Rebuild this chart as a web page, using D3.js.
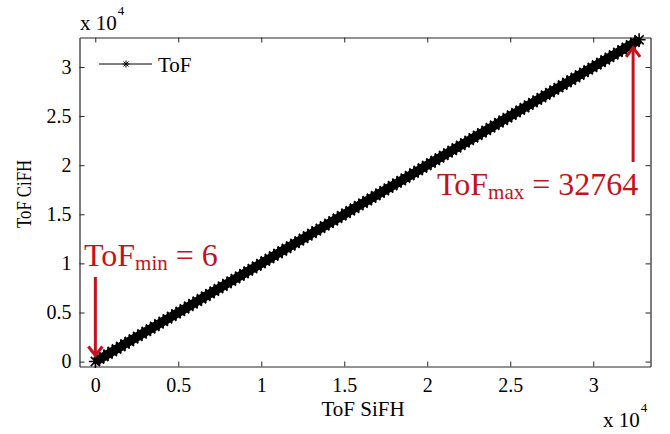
<!DOCTYPE html>
<html>
<head>
<meta charset="utf-8">
<script src="https://cdn.jsdelivr.net/npm/d3@7"></script>
<style>
  html, body { margin: 0; padding: 0; background: #fff; }
  svg { display: block; }
  text { font-family: "Liberation Serif", "Times New Roman", serif; }
</style>
</head>
<body>
<svg id="chart" width="670" height="434"></svg>
<script>
// ---- data ----
const tofSiFH = [6,256,512,768,1024,1280,1536,1792,2048,2304,2560,2816,3072,3328,3584,3840,4096,4352,4608,4864,5120,5376,5632,5888,6144,6400,6656,6912,7168,7424,7680,7936,8192,8448,8704,8960,9216,9472,9728,9984,10240,10496,10752,11008,11264,11520,11776,12032,12288,12544,12800,13056,13312,13568,13824,14080,14336,14592,14848,15104,15360,15616,15872,16128,16384,16640,16896,17152,17408,17664,17920,18176,18432,18688,18944,19200,19456,19712,19968,20224,20480,20736,20992,21248,21504,21760,22016,22272,22528,22784,23040,23296,23552,23808,24064,24320,24576,24832,25088,25344,25600,25856,26112,26368,26624,26880,27136,27392,27648,27904,28160,28416,28672,28928,29184,29440,29696,29952,30208,30464,30720,30976,31232,31488,31744,32000,32256,32512,32764];
const tofCiFH = [6,256,512,768,1024,1280,1536,1792,2048,2304,2560,2816,3072,3328,3584,3840,4096,4352,4608,4864,5120,5376,5632,5888,6144,6400,6656,6912,7168,7424,7680,7936,8192,8448,8704,8960,9216,9472,9728,9984,10240,10496,10752,11008,11264,11520,11776,12032,12288,12544,12800,13056,13312,13568,13824,14080,14336,14592,14848,15104,15360,15616,15872,16128,16384,16640,16896,17152,17408,17664,17920,18176,18432,18688,18944,19200,19456,19712,19968,20224,20480,20736,20992,21248,21504,21760,22016,22272,22528,22784,23040,23296,23552,23808,24064,24320,24576,24832,25088,25344,25600,25856,26112,26368,26624,26880,27136,27392,27648,27904,28160,28416,28672,28928,29184,29440,29696,29952,30208,30464,30720,30976,31232,31488,31744,32000,32256,32512,32764];
const xTicks = [0, 5000, 10000, 15000, 20000, 25000, 30000];
const yTicks = [0, 5000, 10000, 15000, 20000, 25000, 30000];
const tickLabels = ["0", "0.5", "1", "1.5", "2", "2.5", "3"];
const tofMin = 6, tofMax = 32764;
const seriesName = "ToF";

// ---- layout ----
const svg = d3.select("#chart");
const L = 79.5, R = 650.5, T = 37.5, B = 366.5;
const x = d3.scaleLinear().domain([-950, 33450]).range([L, R]);
const y = d3.scaleLinear().domain([-500, 33000]).range([B, T]);
const axisColor = "#262626";
const red = "#c4121c";
const tickFont = "20px";

// bottom axis
const gb = svg.append("g").attr("transform", `translate(0,${B})`)
  .call(d3.axisBottom(x).tickValues(xTicks).tickFormat(v => tickLabels[xTicks.indexOf(v)]).tickSizeInner(-5).tickSizeOuter(0).tickPadding(11));
// top axis
const gt = svg.append("g").attr("transform", `translate(0,${T})`)
  .call(d3.axisTop(x).tickValues(xTicks).tickFormat("").tickSizeInner(-5).tickSizeOuter(0));
// left axis
const gl = svg.append("g").attr("transform", `translate(${L},0)`)
  .call(d3.axisLeft(y).tickValues(yTicks).tickFormat(v => tickLabels[yTicks.indexOf(v)]).tickSizeInner(-5).tickSizeOuter(0).tickPadding(8));
// right axis
const gr = svg.append("g").attr("transform", `translate(${R},0)`)
  .call(d3.axisRight(y).tickValues(yTicks).tickFormat("").tickSizeInner(-5).tickSizeOuter(0));

[gb, gt, gl, gr].forEach(g => {
  g.selectAll("path.domain").attr("stroke", axisColor).attr("stroke-width", 1.2);
  g.selectAll(".tick line").attr("stroke", axisColor).attr("stroke-width", 1);
  g.selectAll(".tick text").attr("fill", "#000").style("font-size", tickFont)
    .style("font-family", '"Liberation Serif", serif');
});

// exponent labels
const e1 = svg.append("text").attr("x", 80).attr("y", 30).style("font-size", "21px");
e1.append("tspan").text("x 10");
e1.append("tspan").attr("dx", 1).attr("dy", -15).style("font-size", "13px").text("4");
const e2 = svg.append("text").attr("x", 603).attr("y", 427).style("font-size", "21px");
e2.append("tspan").text("x 10");
e2.append("tspan").attr("dx", 1).attr("dy", -15).style("font-size", "13px").text("4");

// axis titles
svg.append("text").attr("x", 363).attr("y", 416).attr("text-anchor", "middle")
  .style("font-size", "21px").text("ToF SiFH");
svg.append("text").attr("transform", "translate(31,194) rotate(-90)").attr("text-anchor", "middle")
  .attr("textLength", 68).attr("lengthAdjust", "spacingAndGlyphs")
  .style("font-size", "21px").text("ToF CiFH");

// data
const pts = tofSiFH.map((v, i) => [v, tofCiFH[i]]);
const star = r => {
  const d = r * 0.7071;
  return `M${-r},0L${r},0M0,${-r}L0,${r}M${-d},${-d}L${d},${d}M${-d},${d}L${d},${-d}`;
};
const plot = svg.append("g");
plot.append("path").datum(pts)
  .attr("d", d3.line().x(d => x(d[0])).y(d => y(d[1])))
  .attr("fill", "none").attr("stroke", "#000").attr("stroke-width", 9);
plot.selectAll("path.m").data(pts).join("path").attr("class", "m")
  .attr("transform", d => `translate(${x(d[0])},${y(d[1])})`)
  .attr("d", star(6.5)).attr("stroke", "#000").attr("stroke-width", 1.6).attr("fill", "none");

// legend
svg.append("line").attr("x1", 99).attr("x2", 152).attr("y1", 64).attr("y2", 64)
  .attr("stroke", "#000").attr("stroke-width", 1);
svg.append("path").attr("transform", "translate(126,64)").attr("d", star(3.5))
  .attr("stroke", "#000").attr("stroke-width", 1);
svg.append("text").attr("x", 158).attr("y", 72).style("font-size", "21px").text(seriesName);

// annotations
function arrow(x0, y0, y1) {
  const dir = y1 > y0 ? 1 : -1;
  svg.append("line").attr("x1", x0).attr("x2", x0).attr("y1", y0).attr("y2", y1 - dir * 1)
    .attr("stroke", red).attr("stroke-width", 3);
  svg.append("path").attr("d", `M${x0 - 7},${y1 - dir * 9}L${x0},${y1}L${x0 + 7},${y1 - dir * 9}`)
    .attr("fill", "none").attr("stroke", red).attr("stroke-width", 3).attr("stroke-linejoin", "miter");
}
const xm = x(tofMin), ym = y(tofMin);
arrow(xm, 277, ym - 6);
const xM = x(tofMax) - 6, yM = y(tofMax);
arrow(xM, 162, yM + 8);

const tmin = svg.append("text").attr("x", 84).attr("y", 266).attr("fill", red).style("font-size", "32px");
tmin.append("tspan").text("ToF");
tmin.append("tspan").attr("dy", 4).style("font-size", "21px").text("min");
tmin.append("tspan").attr("dy", -4).text(" = " + tofMin);

const tmax = svg.append("text").attr("x", 437).attr("y", 195).attr("fill", red).style("font-size", "32px");
tmax.append("tspan").text("ToF");
tmax.append("tspan").attr("dy", 4).style("font-size", "21px").text("max");
tmax.append("tspan").attr("dy", -4).text(" = " + tofMax);
</script>
</body>
</html>
